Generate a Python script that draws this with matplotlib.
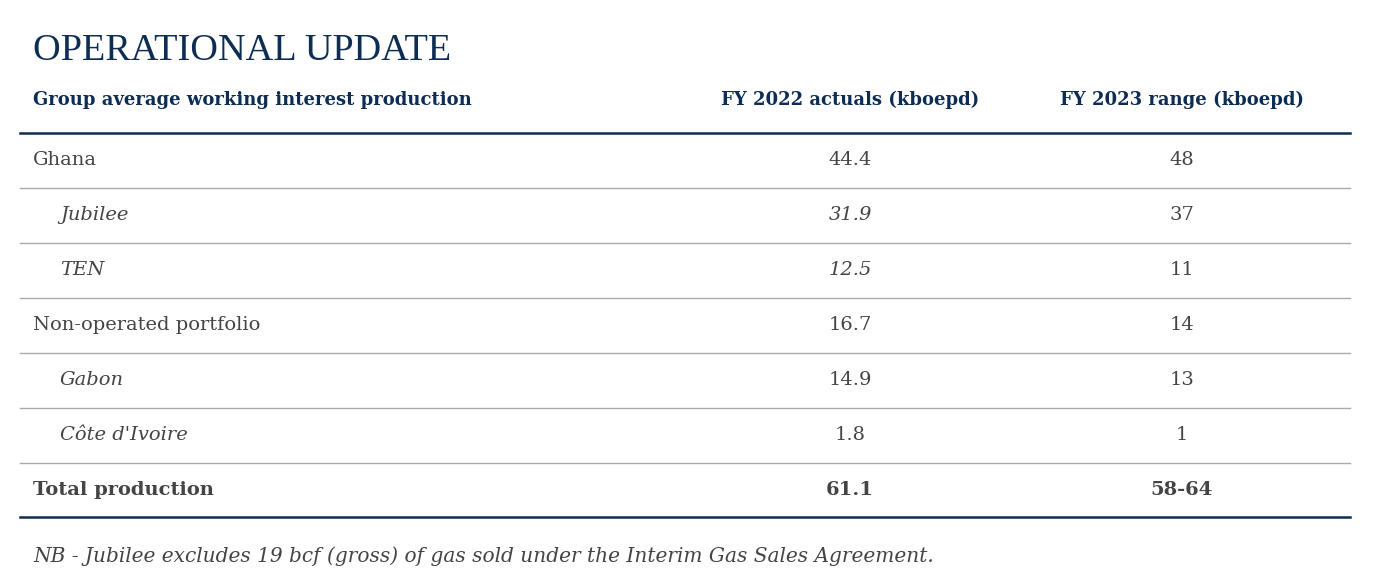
import matplotlib
matplotlib.use("Agg")
import matplotlib.pyplot as plt

title = "OPERATIONAL UPDATE"
headers = ["Group average working interest production", "FY 2022 actuals (kboepd)", "FY 2023 range (kboepd)"]
labels = ["Ghana", "Jubilee", "TEN", "Non-operated portfolio", "Gabon", "Côte d'Ivoire", "Total production"]
fy2022 = ["44.4", "31.9", "12.5", "16.7", "14.9", "1.8", "61.1"]
fy2023 = ["48", "37", "11", "14", "13", "1", "58-64"]
indented = [False, True, True, False, True, True, False]
italic_2022 = [False, True, True, False, False, False, False]
note = "NB - Jubilee excludes 19 bcf (gross) of gas sold under the Interim Gas Sales Agreement."

navy = "#0d2d55"
grey = "#444444"
font = "Liberation Serif"
body = "DejaVu Serif"

fig = plt.figure(figsize=(13.86, 5.84), dpi=100)
ax = fig.add_axes([0, 0, 1, 1])
ax.set_xlim(0, 1386)
ax.set_ylim(584, 0)
ax.axis("off")

ax.text(33, 51, title, fontsize=27.5, color=navy, family=font, va="center")
ax.text(33, 100, headers[0], fontsize=13, color=navy, family=body, weight="bold", va="center")
ax.text(850, 100, headers[1], fontsize=13, color=navy, family=body, weight="bold", va="center", ha="center")
ax.text(1182, 100, headers[2], fontsize=13, color=navy, family=body, weight="bold", va="center", ha="center")

ax.plot([20, 1350], [133, 133], color=navy, lw=1.8)
row_h = 55
for i, lab in enumerate(labels):
    y = 160 + i * row_h
    last = i == len(labels) - 1
    w = "bold" if last else "normal"
    st = "italic" if indented[i] else "normal"
    x = 60 if indented[i] else 33
    ax.text(x, y, lab, fontsize=14, color=grey, family=body, style=st, weight=w, va="center")
    ax.text(850, y, fy2022[i], fontsize=14, color=grey, family=body, weight=w,
            style="italic" if italic_2022[i] else "normal", va="center", ha="center")
    ax.text(1182, y, fy2023[i], fontsize=14, color=grey, family=body, weight=w, va="center", ha="center")
    if not last:
        ax.plot([20, 1350], [y + 28, y + 28], color="#aaaaaa", lw=1)
ax.plot([20, 1350], [517, 517], color=navy, lw=1.8)

ax.text(33, 556, note, fontsize=14.5, color=grey, family=body, style="italic", va="center")

fig.savefig("out.png", dpi=100)
